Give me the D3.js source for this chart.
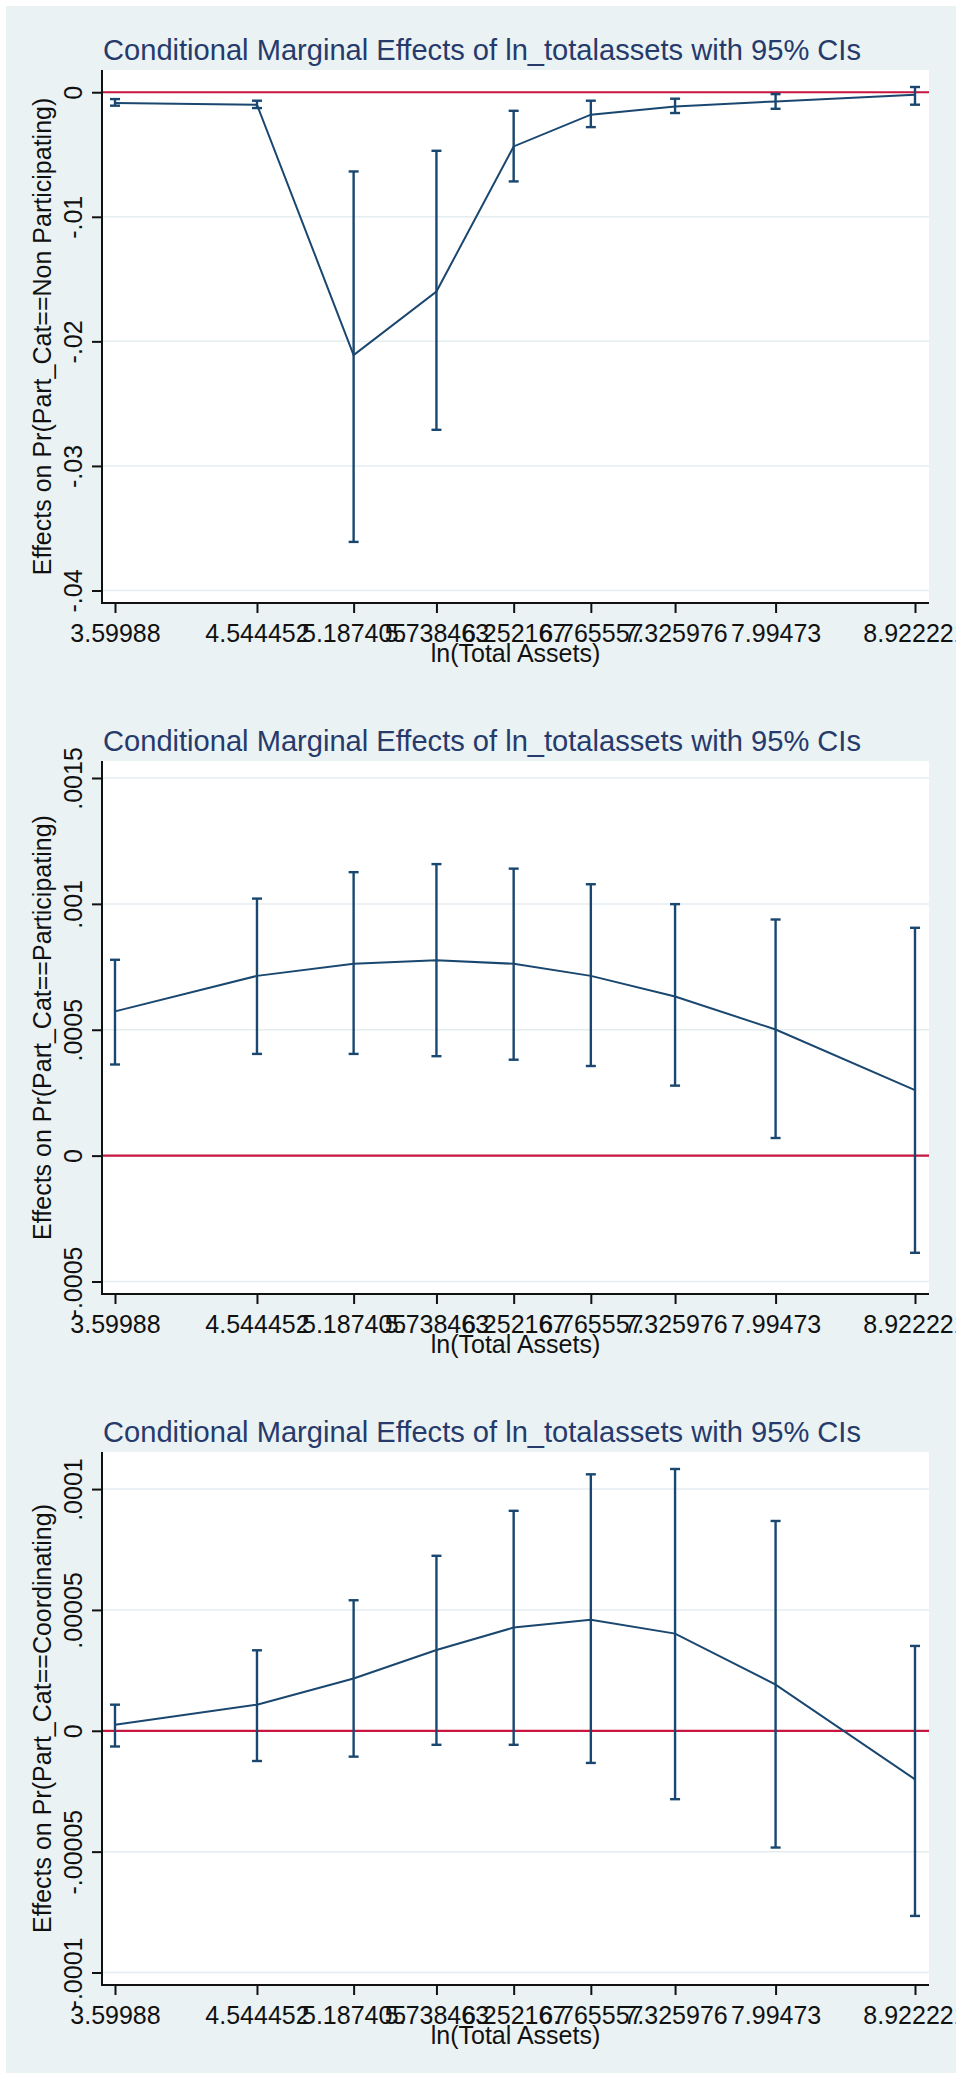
<!DOCTYPE html>
<html>
<head>
<meta charset="utf-8">
<script src="https://cdn.jsdelivr.net/npm/d3@7"></script>
<style>
  html, body { margin: 0; padding: 0; background: #ffffff; }
  svg { display: block; }
  text { font-family: "Liberation Sans", Arial, sans-serif; }
</style>
</head>
<body>
<svg id="chart" width="956" height="2075"></svg>
<script>
// ---------- data ----------
const xValues = [3.59988, 4.544452, 5.187405, 5.738463, 6.252167, 6.765557, 7.325976, 7.99473, 8.922221];
const xTickLabels = ["3.59988", "4.544452", "5.187405", "5.738463", "6.252167", "6.765557", "7.325976", "7.99473", "8.922221"];

const chartTitle = "Conditional Marginal Effects of ln_totalassets with 95% CIs";
const xTitle = "ln(Total Assets)";

// Panel 1: Non Participating
const nonPartMargin = [-0.00087, -0.0010, -0.0211, -0.0160, -0.00435, -0.0018, -0.00114, -0.00074, -0.0002];
const nonPartLower  = [-0.00108, -0.00127, -0.0361, -0.0271, -0.00716, -0.0028, -0.00167, -0.00133, -0.0010];
const nonPartUpper  = [-0.00055, -0.00068, -0.00636, -0.0047, -0.00149, -0.00068, -0.00052, -0.00015, 0.00042];
const nonPartTicks = [0, -0.01, -0.02, -0.03, -0.04];
const nonPartTickLabels = ["0", "-.01", "-.02", "-.03", "-.04"];
const nonPartYTitle = "Effects on Pr(Part_Cat==Non Participating)";

// Panel 2: Participating
const partMargin = [0.000573, 0.000714, 0.000762, 0.000776, 0.000762, 0.000714, 0.000632, 0.000501, 0.00026];
const partLower  = [0.000362, 0.000404, 0.000404, 0.000395, 0.000381, 0.000356, 0.000278, 0.00007, -0.000386];
const partUpper  = [0.000778, 0.001021, 0.001126, 0.001158, 0.00114, 0.001078, 0.000999, 0.000938, 0.000905];
const partTicks = [-0.0005, 0, 0.0005, 0.001, 0.0015];
const partTickLabels = ["-.0005", "0", ".0005", ".001", ".0015"];
const partYTitle = "Effects on Pr(Part_Cat==Participating)";

// Panel 3: Coordinating
const coordMargin = [0.0000025, 0.0000108, 0.0000216, 0.0000334, 0.0000427, 0.0000459, 0.0000402, 0.0000191, -0.0000201];
const coordLower  = [-0.0000065, -0.0000125, -0.0000107, -0.0000058, -0.0000058, -0.0000133, -0.0000283, -0.0000483, -0.0000766];
const coordUpper  = [0.0000108, 0.0000333, 0.000054, 0.0000724, 0.000091, 0.0001061, 0.0001083, 0.0000868, 0.0000351];
const coordTicks = [-0.0001, -0.00005, 0, 0.00005, 0.0001];
const coordTickLabels = ["-.0001", "-.00005", "0", ".00005", ".0001"];
const coordYTitle = "Effects on Pr(Part_Cat==Coordinating)";

// ---------- layout / style ----------
const W = 956, H = 2075;
const panelOffsets = [0, 691, 1382];
const plotLeft = 102, plotRight = 929, plotTop = 70, plotBottom = 603;
const innerLeft = 115, innerRight = 915, innerTop = 87, innerBottom = 590.5;
const navy = "#1A476F";
const red = "#C8163E";
const bg = "#EAF2F3";
const grid = "#E4EDF0";
const titleColor = "#263A6C";

const svg = d3.select("#chart");
svg.append("rect").attr("x", 6).attr("y", 6).attr("width", W - 6).attr("height", H - 8).attr("fill", bg);

const x = d3.scaleLinear().domain([xValues[0], xValues[xValues.length - 1]]).range([innerLeft, innerRight]);

const panels = [
  { margin: nonPartMargin, lower: nonPartLower, upper: nonPartUpper, ticks: nonPartTicks, tickLabels: nonPartTickLabels, yTitle: nonPartYTitle },
  { margin: partMargin, lower: partLower, upper: partUpper, ticks: partTicks, tickLabels: partTickLabels, yTitle: partYTitle },
  { margin: coordMargin, lower: coordLower, upper: coordUpper, ticks: coordTicks, tickLabels: coordTickLabels, yTitle: coordYTitle }
];

panels.forEach((p, i) => {
  const off = panelOffsets[i];
  const g = svg.append("g").attr("transform", `translate(0,${off})`);

  const lo = d3.min(p.ticks.concat(p.lower));
  const hi = d3.max(p.ticks.concat(p.upper));
  const y = d3.scaleLinear().domain([lo, hi]).range([innerBottom, innerTop]);

  // title
  g.append("text")
    .attr("x", 103).attr("y", 59.5)
    .attr("text-anchor", "start")
    .attr("font-size", 29.5)
    .attr("textLength", 758)
    .attr("lengthAdjust", "spacingAndGlyphs")
    .attr("fill", titleColor)
    .text(chartTitle);

  // plot region
  g.append("rect")
    .attr("x", plotLeft).attr("y", plotTop)
    .attr("width", plotRight - plotLeft).attr("height", plotBottom - plotTop)
    .attr("fill", "#ffffff");

  // gridlines
  g.append("g").selectAll("line").data(p.ticks).join("line")
    .attr("x1", plotLeft).attr("x2", plotRight)
    .attr("y1", d => y(d)).attr("y2", d => y(d))
    .attr("stroke", grid).attr("stroke-width", 1.5);

  // zero reference line
  g.append("line")
    .attr("x1", plotLeft).attr("x2", plotRight)
    .attr("y1", y(0)).attr("y2", y(0))
    .attr("stroke", red).attr("stroke-width", 2.2);

  // y axis
  const yAxis = d3.axisLeft(y).tickValues(p.ticks).tickSize(10).tickFormat((d, k) => p.tickLabels[k]);
  const ya = g.append("g").attr("transform", `translate(${plotLeft},0)`).call(yAxis);
  ya.select(".domain").remove();
  ya.selectAll(".tick line").attr("stroke", "#111").attr("stroke-width", 2);
  ya.selectAll(".tick text")
    .attr("x", null).attr("dy", null)
    .attr("transform", "translate(-20.5,0) rotate(-90)")
    .attr("text-anchor", "middle")
    .attr("font-size", 25)
    .attr("font-family", "Liberation Sans, Arial, sans-serif")
    .attr("fill", "#111");
  g.append("line")
    .attr("x1", plotLeft).attr("x2", plotLeft)
    .attr("y1", plotTop).attr("y2", plotBottom + 1)
    .attr("stroke", "#111").attr("stroke-width", 2);

  // x axis
  const xAxis = d3.axisBottom(x).tickValues(xValues).tickSize(10).tickFormat((d, k) => xTickLabels[k]);
  const xa = g.append("g").attr("transform", `translate(0,${plotBottom})`).call(xAxis);
  xa.select(".domain").remove();
  xa.selectAll(".tick line").attr("stroke", "#111").attr("stroke-width", 2);
  xa.selectAll(".tick text")
    .attr("y", 39).attr("dy", null)
    .attr("font-size", 25)
    .attr("font-family", "Liberation Sans, Arial, sans-serif")
    .attr("fill", "#111");
  g.append("line")
    .attr("x1", plotLeft - 1).attr("x2", plotRight)
    .attr("y1", plotBottom).attr("y2", plotBottom)
    .attr("stroke", "#111").attr("stroke-width", 2);

  // axis titles
  g.append("text")
    .attr("x", (plotLeft + plotRight) / 2).attr("y", 662)
    .attr("text-anchor", "middle")
    .attr("font-size", 25)
    .attr("fill", "#111")
    .text(xTitle);
  g.append("text")
    .attr("transform", `translate(50.5,${(plotTop + plotBottom) / 2}) rotate(-90)`)
    .attr("text-anchor", "middle")
    .attr("font-size", 25)
    .attr("fill", "#111")
    .text(p.yTitle);

  // connecting line
  const pts = xValues.map((v, k) => [v, p.margin[k]]);
  g.append("path")
    .datum(pts)
    .attr("d", d3.line().x(d => x(d[0])).y(d => y(d[1])))
    .attr("fill", "none").attr("stroke", navy).attr("stroke-width", 2);

  // error bars
  const eb = g.append("g").attr("stroke", navy).attr("stroke-width", 2.4).attr("fill", "none");
  xValues.forEach((v, k) => {
    const cx = x(v);
    eb.append("line").attr("x1", cx).attr("x2", cx).attr("y1", y(p.lower[k])).attr("y2", y(p.upper[k]));
    eb.append("line").attr("x1", cx - 5).attr("x2", cx + 5).attr("y1", y(p.lower[k])).attr("y2", y(p.lower[k]));
    eb.append("line").attr("x1", cx - 5).attr("x2", cx + 5).attr("y1", y(p.upper[k])).attr("y2", y(p.upper[k]));
  });
});
</script>
</body>
</html>
